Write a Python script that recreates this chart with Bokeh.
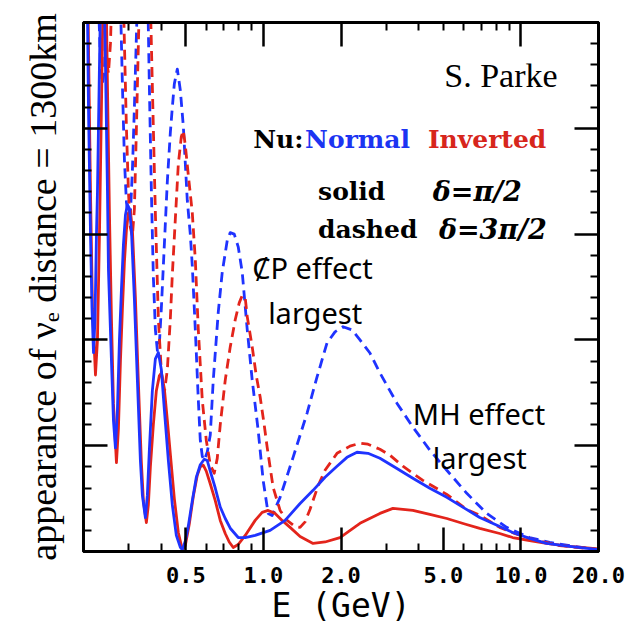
from bokeh.plotting import figure
from bokeh.models import LogAxis, LinearAxis, FixedTicker, Label, Range1d
from bokeh.embed import file_html
from bokeh.resources import INLINE

# ---- data: (E [GeV], appearance probability) ----
blue_solid = [(0.200, 0.40), (0.2054, 0.30), (0.2091, 0.21), (0.2129, 0.15), (0.2158, 0.115), (0.2187, 0.094),
              (0.2217, 0.11), (0.2246, 0.15), (0.2266, 0.17), (0.2307, 0.23), (0.2337, 0.27), (0.2369, 0.29),
              (0.2402, 0.27), (0.2434, 0.23), (0.2478, 0.17), (0.2500, 0.133), (0.2568, 0.09), (0.2614, 0.062),
              (0.2661, 0.049), (0.2709, 0.067), (0.2758, 0.100), (0.2808, 0.124), (0.2858, 0.145), (0.2910, 0.159),
              (0.2962, 0.164), (0.3015, 0.162), (0.3070, 0.152), (0.3153, 0.119), (0.3238, 0.081), (0.3326, 0.043),
              (0.3386, 0.0265), (0.3478, 0.016), (0.3540, 0.0265), (0.3604, 0.048), (0.3702, 0.076), (0.3803, 0.091),
              (0.3906, 0.094), (0.4012, 0.086), (0.4121, 0.067), (0.4271, 0.043), (0.4426, 0.022), (0.4587, 0.0076),
              (0.4754, 0.002), (0.4839, 0.0009), (0.4970, 0.005), (0.5105, 0.012), (0.5291, 0.024), (0.5483, 0.035),
              (0.5683, 0.041), (0.5889, 0.0436), (0.6049, 0.043), (0.6213, 0.038), (0.6497, 0.030), (0.6794, 0.021),
              (0.7104, 0.0156), (0.7428, 0.011), (0.7978, 0.0066), (0.8493, 0.0066), (0.9283, 0.0076), (1.0613, 0.010),
              (1.2134, 0.0147), (1.3872, 0.0227), (1.5579, 0.0289), (1.7339, 0.0351), (1.9298, 0.0403), (2.1102, 0.0445),
              (2.3073, 0.0469), (2.5452, 0.0464), (2.833, 0.0441), (3.238, 0.0398), (3.803, 0.0346), (4.426, 0.0299),
              (5.151, 0.0256), (6.049, 0.0204), (6.916, 0.0161), (8.268, 0.0118), (9.283, 0.009), (10.80, 0.0062),
              (12.57, 0.0038), (15.44, 0.0024), (20.0, 0.0009)]

red_solid = [(0.200, 0.40), (0.2054, 0.32), (0.2091, 0.24), (0.2129, 0.17), (0.2167, 0.115), (0.2226, 0.0834),
             (0.2266, 0.10), (0.2307, 0.15), (0.2348, 0.21), (0.2380, 0.26), (0.2412, 0.29), (0.2445, 0.27),
             (0.2478, 0.22), (0.2522, 0.16), (0.2568, 0.11), (0.2614, 0.07), (0.2685, 0.042), (0.2733, 0.058),
             (0.2783, 0.09), (0.2833, 0.115), (0.2884, 0.137), (0.2936, 0.152), (0.2989, 0.16), (0.3042, 0.161),
             (0.3097, 0.152), (0.3181, 0.12), (0.3267, 0.08), (0.3356, 0.042), (0.3417, 0.024), (0.3509, 0.0137),
             (0.3572, 0.022), (0.3637, 0.04), (0.3735, 0.06), (0.3837, 0.076), (0.3941, 0.083), (0.4012, 0.0844),
             (0.4121, 0.077), (0.4233, 0.062), (0.4348, 0.046), (0.4506, 0.025), (0.4669, 0.009), (0.4839, 0.0009),
             (0.4970, 0.0028), (0.5151, 0.013), (0.5338, 0.026), (0.5532, 0.036), (0.5683, 0.040), (0.5837, 0.0408),
             (0.5995, 0.038), (0.6213, 0.032), (0.6497, 0.024), (0.6794, 0.0147), (0.7104, 0.0085), (0.7362, 0.0045),
             (0.7630, 0.0019), (0.7978, 0.0033), (0.8493, 0.0076), (0.9283, 0.0147), (0.9882, 0.0185), (1.0425, 0.0194),
             (1.1097, 0.018), (1.1813, 0.0147), (1.2688, 0.0114), (1.3872, 0.0071), (1.5579, 0.0038), (1.7339, 0.0045),
             (1.9822, 0.0066), (2.3698, 0.0133), (2.833, 0.018), (3.181, 0.0204), (3.803, 0.0194), (4.426, 0.0175),
             (5.151, 0.0156), (6.049, 0.013), (6.916, 0.0109), (8.268, 0.0085), (9.283, 0.0066), (10.80, 0.0052),
             (12.57, 0.0038), (15.44, 0.0024), (20.0, 0.0012)]

blue_dashed = [(0.200, 0.30), (0.2072, 0.36), (0.2148, 0.40), (0.2226, 0.34), (0.2286, 0.26), (0.2327, 0.232),
               (0.2369, 0.221), (0.2412, 0.228), (0.2456, 0.26), (0.2522, 0.32), (0.2614, 0.36), (0.2709, 0.32),
               (0.2783, 0.26), (0.2833, 0.22), (0.2884, 0.185), (0.2936, 0.165), (0.2989, 0.158), (0.3042, 0.16),
               (0.3097, 0.18), (0.3153, 0.21), (0.3238, 0.26), (0.3326, 0.32), (0.3417, 0.34), (0.3509, 0.30),
               (0.3604, 0.22), (0.3670, 0.17), (0.3735, 0.13), (0.3803, 0.105), (0.3871, 0.095), (0.3941, 0.098),
               (0.4012, 0.115), (0.4121, 0.145), (0.4233, 0.175), (0.4348, 0.198), (0.4426, 0.21), (0.4506, 0.221),
               (0.4628, 0.228), (0.4754, 0.218), (0.4883, 0.201), (0.5059, 0.166), (0.5197, 0.15), (0.5291, 0.135),
               (0.5435, 0.105), (0.5582, 0.072), (0.5683, 0.0526), (0.5785, 0.045), (0.5889, 0.0431), (0.6049, 0.047),
               (0.6213, 0.055), (0.6382, 0.081), (0.6673, 0.113), (0.6916, 0.132), (0.7232, 0.147), (0.7428, 0.1507),
               (0.7698, 0.150), (0.7978, 0.144), (0.8268, 0.132), (0.8646, 0.105), (0.9041, 0.081), (0.9535, 0.0573),
               (0.9971, 0.0336), (1.0425, 0.018), (1.0804, 0.017), (1.1604, 0.0256), (1.3032, 0.0445), (1.4767, 0.0654),
               (1.6145, 0.0825), (1.7652, 0.0986), (1.8957, 0.1038), (2.036, 0.1062), (2.2065, 0.1047), (2.3698, 0.100),
               (2.591, 0.0938), (2.833, 0.0844), (3.297, 0.0701), (3.803, 0.0588), (4.426, 0.0479), (5.151, 0.0384),
               (6.158, 0.0275), (7.361, 0.018), (8.798, 0.0114), (10.80, 0.0066), (12.92, 0.0043), (16.14, 0.0024),
               (20.0, 0.0009)]

red_dashed = [(0.200, 0.26), (0.2072, 0.32), (0.2167, 0.37), (0.2266, 0.36), (0.2348, 0.30), (0.2412, 0.25),
              (0.2456, 0.232), (0.2500, 0.226), (0.2545, 0.24), (0.2614, 0.29), (0.2709, 0.35), (0.2808, 0.30),
              (0.2884, 0.24), (0.2936, 0.20), (0.2989, 0.17), (0.3042, 0.153), (0.3097, 0.149), (0.3153, 0.162),
              (0.3210, 0.20), (0.3267, 0.24), (0.3356, 0.30), (0.3478, 0.33), (0.3604, 0.28), (0.3702, 0.22),
              (0.3803, 0.16), (0.3906, 0.11), (0.4012, 0.085), (0.4121, 0.075), (0.4233, 0.086), (0.4348, 0.11),
              (0.4426, 0.131), (0.4546, 0.157), (0.4669, 0.183), (0.4796, 0.196), (0.4883, 0.199), (0.4970, 0.192),
              (0.5105, 0.178), (0.5291, 0.16), (0.5435, 0.138), (0.5582, 0.105), (0.5785, 0.0716), (0.5995, 0.0526),
              (0.6213, 0.041), (0.6439, 0.037), (0.6614, 0.044), (0.6794, 0.060), (0.7104, 0.081), (0.7428, 0.0967),
              (0.7767, 0.1095), (0.8050, 0.1175), (0.8268, 0.121), (0.8493, 0.120), (0.8646, 0.111), (0.9041, 0.0967),
              (0.9366, 0.0834), (0.9707, 0.073), (1.0060, 0.060), (1.0333, 0.0493), (1.0901, 0.0303), (1.1604, 0.0194),
              (1.2352, 0.0147), (1.3266, 0.0118), (1.3872, 0.0114), (1.4505, 0.014), (1.5167, 0.020), (1.6289, 0.031),
              (1.7339, 0.0384), (1.9298, 0.0464), (2.1673, 0.0498), (2.3698, 0.0512), (2.5452, 0.0507), (2.833, 0.0483),
              (3.097, 0.0455), (3.478, 0.0403), (4.158, 0.0336), (5.151, 0.027), (6.158, 0.0199), (6.916, 0.0171),
              (8.268, 0.0114), (9.450, 0.0085), (11.10, 0.0057), (14.12, 0.0028), (20.0, 0.0009)]

x_major_ticks = [0.5, 1.0, 2.0, 5.0, 10.0, 20.0]
x_tick_labels = ["0.5", "1.0", "2.0", "5.0", "10.0", "20.0"]
x_minor_ticks = [0.3, 0.4, 0.6, 0.7, 0.8, 0.9, 3.0, 4.0, 6.0, 7.0, 8.0, 9.0]
x_top_major = [0.5, 1.0, 2.0, 10.0, 20.0]
x_top_minor = [0.3, 0.4, 0.6, 0.7, 0.8, 0.9, 3.0, 4.0, 5.0, 6.0, 7.0, 8.0, 9.0]
y_major_ticks = [0.0, 0.05, 0.10, 0.15, 0.20, 0.25]
y_minor_ticks = [0.01, 0.02, 0.03, 0.04, 0.06, 0.07, 0.08, 0.09, 0.11, 0.12, 0.13, 0.14,
                 0.16, 0.17, 0.18, 0.19, 0.21, 0.22, 0.23, 0.24]

BLUE = "#1f33ff"
RED = "#e3241b"

p = figure(width=639, height=634, x_axis_type="log",
           x_range=Range1d(0.2, 20), y_range=Range1d(0, 0.25),
           output_backend="svg", toolbar_location=None,
           min_border_left=83, min_border_right=41, min_border_top=22, min_border_bottom=83)
p.xgrid.visible = False
p.ygrid.visible = False
p.outline_line_color = "black"
p.outline_line_width = 3
p.background_fill_color = "white"
p.border_fill_color = "white"


def style_axis(ax):
    ax.axis_line_width = 3
    ax.axis_line_color = "black"
    ax.major_tick_in = 24
    ax.major_tick_out = 0
    ax.minor_tick_in = 8
    ax.minor_tick_out = 0
    ax.major_tick_line_width = 2.5
    ax.minor_tick_line_width = 2
    ax.major_tick_line_color = "black"
    ax.minor_tick_line_color = "black"


xb = p.xaxis[0]
style_axis(xb)
xb.ticker = FixedTicker(ticks=x_major_ticks, minor_ticks=x_minor_ticks)
xb.major_label_overrides = {t: s for t, s in zip(x_major_ticks, x_tick_labels)}
xb.major_label_text_font = "DejaVu Sans Mono"
xb.major_label_text_font_style = "bold"
xb.major_label_text_font_size = "22px"
xb.major_label_text_color = "black"
xb.major_label_standoff = 15
xb.axis_label = "E (GeV)"
xb.axis_label_text_font = "DejaVu Sans Mono"
xb.axis_label_text_font_style = "normal"
xb.axis_label_text_font_size = "33px"
xb.axis_label_text_color = "black"
xb.axis_label_standoff = 0

yl = p.yaxis[0]
style_axis(yl)
yl.ticker = FixedTicker(ticks=y_major_ticks, minor_ticks=y_minor_ticks)
yl.major_label_overrides = {t: "" for t in y_major_ticks}
yl.major_label_standoff = 0
yl.axis_label = "appearance of \u03bd\u2091 distance = 1300km"
yl.axis_label_text_font = "Liberation Serif"
yl.axis_label_text_font_style = "normal"
yl.axis_label_text_font_size = "38px"
yl.axis_label_text_color = "black"
yl.axis_label_standoff = 20

xt = LogAxis(ticker=FixedTicker(ticks=x_top_major, minor_ticks=x_top_minor))
style_axis(xt)
xt.major_label_overrides = {t: "" for t in x_top_major}
xt.major_label_standoff = 0
p.add_layout(xt, "above")

yr = LinearAxis(ticker=FixedTicker(ticks=y_major_ticks, minor_ticks=y_minor_ticks))
style_axis(yr)
yr.major_label_overrides = {t: "" for t in y_major_ticks}
yr.major_label_standoff = 0
p.add_layout(yr, "right")


def draw(series, color, dash):
    xs = [e for e, _ in series]
    ys = [v for _, v in series]
    p.line(xs, ys, line_color=color, line_width=2.8, line_dash=dash, line_join="round")


draw(blue_dashed, BLUE, "10 6")
draw(red_dashed, RED, "10 6")
draw(red_solid, RED, "solid")
draw(blue_solid, BLUE, "solid")


def label(x, y, text, font, size, color="black", style="normal", align="left"):
    p.add_layout(Label(x=x, y=y, text=text, text_font=font, text_font_size=size,
                       text_color=color, text_font_style=style, text_align=align,
                       text_baseline="alphabetic"))


label(13.87, 0.2251, "S. Parke", "Liberation Serif", "34px", align="right")
label(0.912, 0.1948, "Nu:", "DejaVu Serif", "25px", style="bold")
label(1.451, 0.1948, "Normal", "DejaVu Serif", "25px", color="#1c34f2", style="bold")
label(4.35, 0.1948, "Inverted", "DejaVu Serif", "25px", color="#d7261c", style="bold")
label(1.629, 0.1701, "solid", "DejaVu Serif", "25px", style="bold")
label(4.546, 0.1701, "\u03b4=\u03c0/2", "DejaVu Serif", "27px", style="bold italic")
label(1.629, 0.1521, "dashed", "DejaVu Serif", "25px", style="bold")
label(4.80, 0.1521, "\u03b4=3\u03c0/2", "DejaVu Serif", "27px", style="bold italic")
label(0.904, 0.1341, "C\u0338P effect", "Noto Sans", "29px")
label(1.0425, 0.1128, "largest", "Noto Sans", "29px")
label(3.803, 0.0654, "MH effect", "Noto Sans", "29px")
label(4.546, 0.0445, "largest", "Noto Sans", "29px")

open("out.html", "w").write(file_html(p, INLINE))
